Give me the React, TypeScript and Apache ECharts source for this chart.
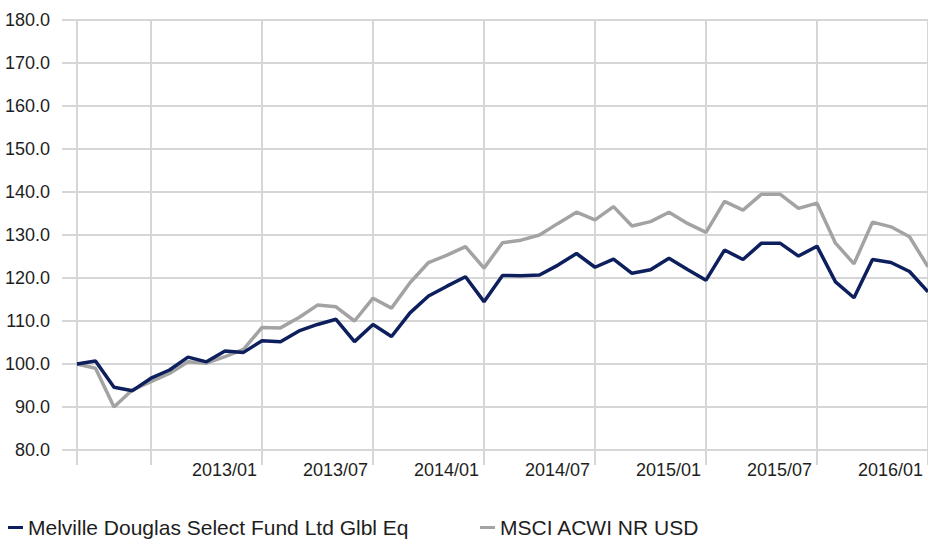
import React, { useEffect, useRef } from "react";
import * as echarts from "echarts";

const categories = [
  "2012/03", "2012/04", "2012/05", "2012/06", "2012/07", "2012/08", "2012/09", "2012/10", "2012/11", "2012/12",
  "2013/01", "2013/02", "2013/03", "2013/04", "2013/05", "2013/06", "2013/07", "2013/08", "2013/09", "2013/10",
  "2013/11", "2013/12", "2014/01", "2014/02", "2014/03", "2014/04", "2014/05", "2014/06", "2014/07", "2014/08",
  "2014/09", "2014/10", "2014/11", "2014/12", "2015/01", "2015/02", "2015/03", "2015/04", "2015/05", "2015/06",
  "2015/07", "2015/08", "2015/09", "2015/10", "2015/11", "2015/12", "2016/01",
];

const fundName = "Melville Douglas Select Fund Ltd Glbl Eq";
const indexName = "MSCI ACWI NR USD";

const fundValues = [
  100.0, 100.7, 94.6, 93.8, 96.7, 98.6, 101.6, 100.5, 103.0, 102.7,
  105.4, 105.2, 107.7, 109.2, 110.4, 105.2, 109.2, 106.4, 111.9, 115.8,
  118.1, 120.3, 114.5, 120.6, 120.5, 120.7, 123.0, 125.7, 122.5, 124.4,
  121.1, 121.9, 124.6, 122.0, 119.5, 126.5, 124.3, 128.1, 128.1, 125.1,
  127.4, 119.1, 115.4, 124.3, 123.6, 121.5, 116.8,
];

const indexValues = [
  100.0, 99.0, 90.0, 94.0, 95.9, 97.8, 100.5, 100.2, 101.7, 103.4,
  108.5, 108.4, 110.8, 113.7, 113.3, 110.0, 115.3, 113.0, 118.9, 123.6,
  125.3, 127.3, 122.3, 128.2, 128.8, 130.0, 132.7, 135.3, 133.5, 136.6,
  132.1, 133.1, 135.3, 132.7, 130.6, 137.8, 135.8, 139.5, 139.5, 136.2,
  137.4, 128.1, 123.3, 133.0, 131.9, 129.6, 122.6,
];

const yMin = 80;
const yMax = 180;
const yStep = 10;

const NAVY = "#0e1f5e";
const GREY = "#a3a3a3";
const GRID = "#d6d6d6";
const TEXT = "#1e1e1e";
const FONT = "'Liberation Sans', Arial, sans-serif";

export default function App() {
  const ref = useRef<HTMLDivElement>(null);

  useEffect(() => {
    if (!ref.current) return;
    const chart = echarts.init(ref.current, undefined, { renderer: "svg" });
    const isGridIdx = (i: number) => i === 0 || (i - 4) % 6 === 0;
    chart.setOption({
      animation: false,
      backgroundColor: "#ffffff",
      grid: { left: 77, top: 20, width: 853, height: 430, containLabel: false },
      legend: [
        {
          data: [fundName],
          left: 3,
          top: 512,
          icon: "rect",
          itemWidth: 15,
          itemHeight: 3,
          textStyle: { fontSize: 21, color: TEXT, fontFamily: FONT },
        },
        {
          data: [indexName],
          left: 475,
          top: 512,
          icon: "rect",
          itemWidth: 15,
          itemHeight: 3,
          textStyle: { fontSize: 21, color: TEXT, fontFamily: FONT },
        },
      ],
      xAxis: {
        type: "category",
        data: categories,
        boundaryGap: false,
        axisLine: { show: true, lineStyle: { color: GRID, width: 2 } },
        axisTick: {
          show: true,
          length: 15,
          interval: (i: number) => isGridIdx(i),
          lineStyle: { color: GRID, width: 2 },
        },
        splitLine: {
          show: true,
          interval: (i: number) => isGridIdx(i),
          lineStyle: { color: GRID, width: 2 },
        },
        axisLabel: {
          interval: (i: number) => i >= 10 && (i - 4) % 6 === 0,
          align: "right",
          padding: [0, 5, 0, 0],
          margin: 11,
          fontSize: 18,
          color: TEXT,
          fontFamily: FONT,
        },
      },
      yAxis: {
        type: "value",
        min: yMin,
        max: yMax,
        interval: yStep,
        axisLine: { show: true, lineStyle: { color: GRID, width: 2 } },
        axisTick: { show: true, length: 15, lineStyle: { color: GRID, width: 2 } },
        splitLine: { show: true, lineStyle: { color: GRID, width: 2 } },
        axisLabel: {
          margin: 27,
          fontSize: 18,
          color: TEXT,
          fontFamily: FONT,
          formatter: (v: number) => v.toFixed(1),
        },
      },
      series: [
        {
          name: indexName,
          type: "line",
          data: indexValues,
          symbol: "none",
          z: 2,
          itemStyle: { color: GREY },
          lineStyle: { color: GREY, width: 3.5 },
        },
        {
          name: fundName,
          type: "line",
          data: fundValues,
          symbol: "none",
          z: 3,
          itemStyle: { color: NAVY },
          lineStyle: { color: NAVY, width: 3.5 },
        },
      ],
    });
    return () => chart.dispose();
  }, []);

  return (
    <div
      ref={ref}
      style={{ position: "fixed", left: 0, top: 0, width: 928, height: 542, background: "#fff" }}
    />
  );
}
